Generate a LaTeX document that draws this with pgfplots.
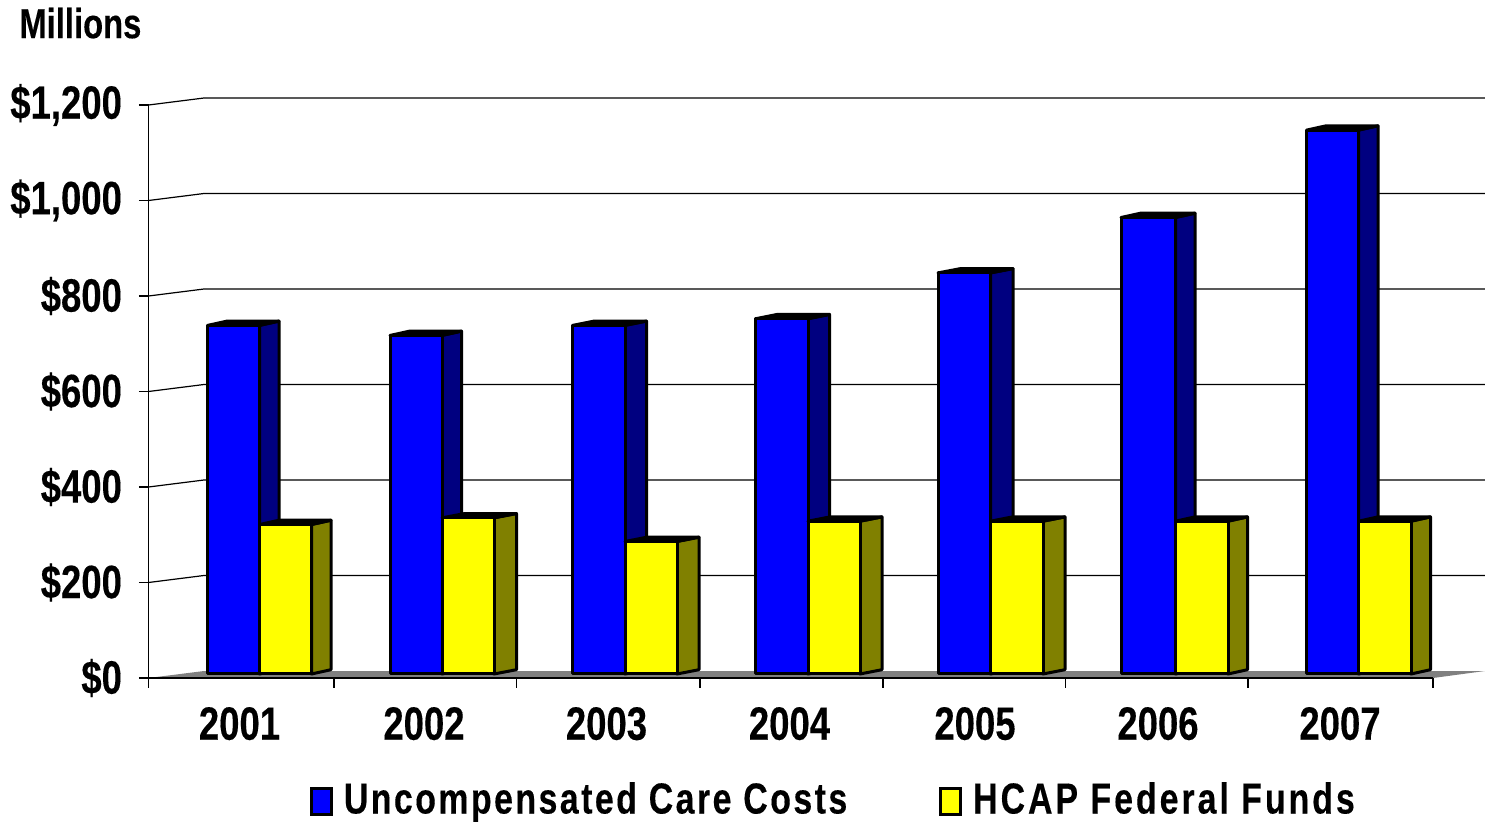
\documentclass[border=0pt]{standalone}
\usepackage{fontspec}
\setmainfont{Liberation Sans}[FakeStretch=0.78,BoldFeatures={FakeBold=0.25}]
\usepackage{pgfplots}
\usepackage{pgfplotstable}
\pgfplotsset{compat=1.18}
\definecolor{ucc}{RGB}{0,0,255}
\definecolor{uccside}{RGB}{0,0,128}
\definecolor{hcap}{RGB}{255,255,0}
\definecolor{hcapside}{RGB}{128,128,0}
\definecolor{floorgray}{RGB}{128,128,128}
\pgfplotstableread{
year xl xm xr ucc hcap db dh
2001 207.5 259.5 311.5 730 313 19.5 19.5
2002 390 442 494 709 327 19.5 22.5
2003 572.5 625 677 730 277.5 21.5 22
2004 755.5 808 860 744 320 21.5 22
2005 938 990.5 1043 840 320 22.5 22
2006 1121 1175.5 1228 956 320 19.5 19.5
2007 1306.5 1358.5 1411 1139 320 19.5 19.5
}\bars
\newcommand{\getbar}[1]{%
  \pgfplotstablegetelem{#1}{xl}\of\bars\let\xl\pgfplotsretval
  \pgfplotstablegetelem{#1}{xm}\of\bars\let\xm\pgfplotsretval
  \pgfplotstablegetelem{#1}{xr}\of\bars\let\xr\pgfplotsretval
  \pgfplotstablegetelem{#1}{ucc}\of\bars\let\vu\pgfplotsretval
  \pgfplotstablegetelem{#1}{hcap}\of\bars\let\vh\pgfplotsretval
  \pgfplotstablegetelem{#1}{db}\of\bars\let\db\pgfplotsretval
  \pgfplotstablegetelem{#1}{dh}\of\bars\let\dh\pgfplotsretval
  \pgfmathsetmacro{\xlb}{\xl+\db}%
  \pgfmathsetmacro{\xmb}{\xm+\db}%
  \pgfmathsetmacro{\xmh}{\xm+\dh}%
  \pgfmathsetmacro{\xrb}{\xr+\dh}%
  \pgfmathsetmacro{\tu}{\vu+8.4}%
  \pgfmathsetmacro{\tub}{\vu+17.4}%
  \pgfmathsetmacro{\th}{\vh+8.4}%
  \pgfmathsetmacro{\thb}{\vh+17.4}%
}
\begin{document}
\begin{tikzpicture}[x=1pt,y=1pt]
\begin{axis}[
  at={(74.25pt,71.5pt)},anchor=south west,
  scale only axis,width=668.25pt,height=286.5pt,
  xmin=148.5,xmax=1485,ymin=0,ymax=1200,
  clip=false,
  axis x line=bottom,axis y line=left,
  axis line style={-,black,line width=0.6pt},
  x axis line style={draw=none},
  ytick={0,200,400,600,800,1000,1200},
  yticklabels={{\$0},{\$200},{\$400},{\$600},{\$800},{\$1,000},{\$1,200}},
  xtick={148.5,334,516.5,700,883,1065.5,1248,1433},
  xticklabels={},
  extra x ticks={239.5,424,606.5,789.5,975,1158,1340},
  extra x tick labels={2001,2002,2003,2004,2005,2006,2007},
  extra x tick style={major tick length=0pt,
    tick label style={yshift=-11pt}},
  tick style={black,line width=0.6pt},
  major tick length=4.75pt,
  tick align=outside,
  ticklabel style={font=\bfseries\fontsize{23.4}{23.4}\selectfont,text=black},
  yticklabel style={xshift=-5pt},
  legend columns=2,
  legend cell align=left,
  legend style={at={(axis cs:310,-254)},anchor=west,draw=none,fill=none,inner sep=0pt,outer sep=0pt,
    font=\bfseries\fontsize{21.7}{21.7}\selectfont,
    /tikz/every even column/.append style={column sep=46pt},
    nodes={inner sep=0pt}},
]
% floor
\addplot[forget plot,fill=floorgray,draw=none] coordinates {(148.5,0) (204,14.66) (1485,14.66) (1433,0)} --cycle;
\addplot[forget plot,black,line width=0.8pt] coordinates {(148.5,0) (1433,0)};
% walls: grid lines
\addplot[forget plot,black,line width=0.6pt] coordinates {(148.5,200) (204,214.66) (1485,214.66)};
\addplot[forget plot,black,line width=0.6pt] coordinates {(148.5,400) (204,414.66) (1485,414.66)};
\addplot[forget plot,black,line width=0.6pt] coordinates {(148.5,600) (204,614.66) (1485,614.66)};
\addplot[forget plot,black,line width=0.6pt] coordinates {(148.5,800) (204,814.66) (1485,814.66)};
\addplot[forget plot,black,line width=0.6pt] coordinates {(148.5,1000) (204,1014.66) (1485,1014.66)};
\addplot[forget plot,black,line width=0.6pt] coordinates {(148.5,1200) (204,1214.66) (1485,1214.66)};
% blue bars
\pgfplotsinvokeforeach{0,...,6}{
  \getbar{#1}
  \addplot[forget plot,fill=uccside,draw=black,line width=1.5pt,line join=round] coordinates {(\xm,8.4) (\xmb,17.4) (\xmb,\tub) (\xm,\tu)} --cycle;
  \addplot[forget plot,fill=black,draw=black,line width=1.5pt,line join=round] coordinates {(\xl,\tu) (\xlb,\tub) (\xmb,\tub) (\xm,\tu)} --cycle;
  \addplot[forget plot,fill=ucc,draw=black,line width=1.5pt,line join=round] coordinates {(\xl,8.4) (\xl,\tu) (\xm,\tu) (\xm,8.4)} --cycle;
}
% yellow bars
\pgfplotsinvokeforeach{0,...,6}{
  \getbar{#1}
  \addplot[forget plot,fill=hcapside,draw=black,line width=1.5pt,line join=round] coordinates {(\xr,8.4) (\xrb,17.4) (\xrb,\thb) (\xr,\th)} --cycle;
  \addplot[forget plot,fill=black,draw=black,line width=1.5pt,line join=round] coordinates {(\xm,\th) (\xmh,\thb) (\xrb,\thb) (\xr,\th)} --cycle;
  \addplot[forget plot,fill=hcap,draw=black,line width=1.5pt,line join=round] coordinates {(\xm,8.4) (\xm,\th) (\xr,\th) (\xr,8.4)} --cycle;
}
\addlegendimage{legend image code/.code={\draw[fill=ucc,draw=black,line width=1.5pt] (0pt,-7.5pt) rectangle (10pt,5.5pt); \path (16pt,0pt);}}
\addlegendentry{\addfontfeature{LetterSpace=5.7}Uncompensated Care Costs}
\addlegendimage{legend image code/.code={\draw[fill=hcap,draw=black,line width=1.5pt] (0pt,-7.5pt) rectangle (10pt,5.5pt); \path (16pt,0pt);}}
\addlegendentry{\addfontfeature{LetterSpace=6.9}HCAP Federal Funds}
\node[anchor=base west,inner sep=0pt,font=\bfseries\fontsize{21}{21}\selectfont] at (axis cs:19,1340) {Millions};
\end{axis}
\pgfresetboundingbox
\path[use as bounding box] (0pt,0pt) rectangle (742.5pt,410.5pt);
\end{tikzpicture}
\end{document}
